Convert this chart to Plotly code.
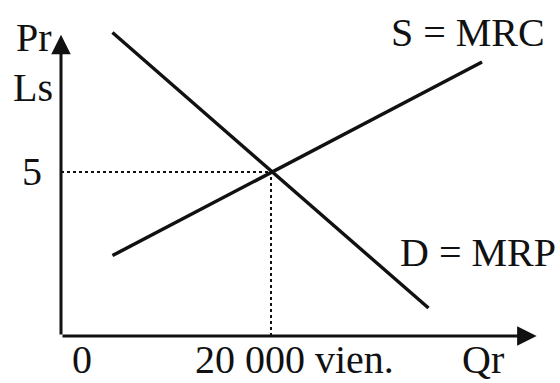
import plotly.graph_objects as go

# equilibrium
q_eq = 20000
p_eq = 5

# demand D = MRP and supply S = MRC (end points)
d_q = [4900, 35000]
d_p = [9.25, 0.85]
s_q = [4900, 40100]
s_p = [2.45, 8.35]

# axis ends (arrow tips)
q_max = 45300
p_max = 9.18

x_tick_labels = ["0", "20 000 vien."]
y_tick_labels = ["5"]

FONT = dict(family="Liberation Serif, Times New Roman, serif", size=40, color="#111")
INK = "#111"
Y_MIN, Y_MAX = -1.433, 10.24

fig = go.Figure()

# dotted guide lines to the equilibrium
fig.add_scatter(x=[0, q_eq], y=[p_eq, p_eq], mode="lines",
                line=dict(color=INK, width=2, dash="3px,3px"), hoverinfo="skip")
fig.add_scatter(x=[q_eq, q_eq], y=[0, p_eq], mode="lines",
                line=dict(color=INK, width=2, dash="3px,3px"), hoverinfo="skip")

# curves
fig.add_scatter(x=d_q, y=d_p, mode="lines", line=dict(color=INK, width=3.4), name="D = MRP")
fig.add_scatter(x=s_q, y=s_p, mode="lines", line=dict(color=INK, width=3.4), name="S = MRC")

# axes with arrow heads
for tip_x, tip_y in [(q_max, 0), (0, p_max)]:
    fig.add_annotation(x=tip_x, y=tip_y, ax=0, ay=0, xref="x", yref="y",
                       axref="x", ayref="y", text="", showarrow=True,
                       arrowhead=2, arrowsize=1.3, arrowwidth=3, arrowcolor=INK)

labels = [
    ("Pr", -800, 9.1, "right", "middle"),
    ("Ls", -700, 7.56, "right", "middle"),
    (y_tick_labels[0], -1700, p_eq, "right", "middle"),
    # labels under the x axis sit on the bottom edge of the figure
    (x_tick_labels[0], 2000, Y_MIN, "center", "bottom"),
    (x_tick_labels[1], 12700, Y_MIN, "left", "bottom"),
    ("Qr", 40200, Y_MIN, "center", "bottom"),
    ("S = MRC", 38800, 9.24, "center", "middle"),
    ("D = MRP", 39700, 2.53, "center", "middle"),
]
for text, x, y, xanchor, yanchor in labels:
    fig.add_annotation(x=x, y=y, xref="x", yref="y", text=text, showarrow=False,
                       xanchor=xanchor, yanchor=yanchor, borderpad=0, font=FONT)

fig.update_xaxes(range=[-5810, 47524], visible=False, fixedrange=True)
fig.update_yaxes(range=[Y_MIN, Y_MAX], visible=False, fixedrange=True)
fig.update_layout(width=560, height=383, autosize=False, showlegend=False,
                  margin=dict(l=0, r=0, t=0, b=0),
                  plot_bgcolor="white", paper_bgcolor="white")

# the page's default body margin would push the figure 8px off
fig.write_html("out.html", post_script="document.body.style.margin='0';",
               config={"displayModeBar": False})
